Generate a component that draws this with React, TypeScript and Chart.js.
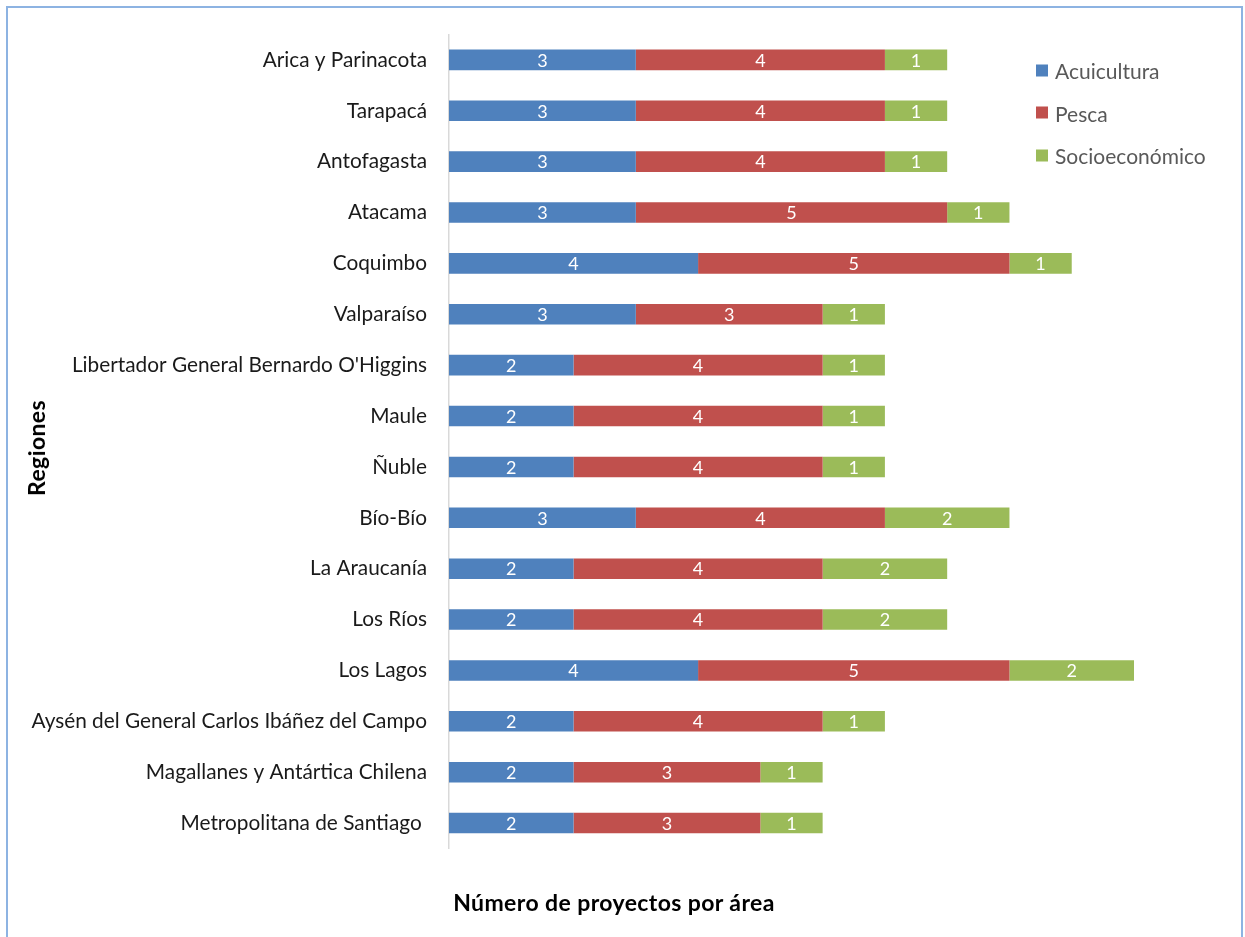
import React, { useEffect, useRef } from "react";
import { Chart, registerables } from "chart.js";

Chart.register(...registerables);

const regions = [
  "Arica y Parinacota",
  "Tarapacá",
  "Antofagasta",
  "Atacama",
  "Coquimbo",
  "Valparaíso",
  "Libertador General Bernardo O'Higgins",
  "Maule",
  "Ñuble",
  "Bío-Bío",
  "La Araucanía",
  "Los Ríos",
  "Los Lagos",
  "Aysén del General Carlos Ibáñez del Campo",
  "Magallanes y Antártica Chilena",
  "Metropolitana de Santiago ",
];

const acuicultura = [3, 3, 3, 3, 4, 3, 2, 2, 2, 3, 2, 2, 4, 2, 2, 2];
const pesca = [4, 4, 4, 5, 5, 3, 4, 4, 4, 4, 4, 4, 5, 4, 3, 3];
const socioeconomico = [1, 1, 1, 1, 1, 1, 1, 1, 1, 2, 2, 2, 2, 1, 1, 1];

const seriesNames = ["Acuicultura", "Pesca", "Socioeconómico"];
const seriesColors = ["#4F81BD", "#C0504D", "#9BBB59"];

const FONT = "Lato, Carlito, Calibri, sans-serif";

const valueLabels = {
  id: "valueLabels",
  afterDatasetsDraw(chart: any) {
    const ctx = chart.ctx;
    ctx.save();
    ctx.fillStyle = "#ffffff";
    ctx.font = `18px ${FONT}`;
    ctx.textAlign = "center";
    ctx.textBaseline = "middle";
    chart.data.datasets.forEach((ds: any, di: number) => {
      const meta = chart.getDatasetMeta(di);
      meta.data.forEach((el: any, i: number) => {
        const v = ds.data[i];
        if (!v) return;
        const p = el.getProps(["x", "y", "base"], true);
        ctx.fillText(String(v), (p.x + p.base) / 2, p.y + 1);
      });
    });
    ctx.restore();
  },
};

export default function App() {
  const ref = useRef<HTMLCanvasElement>(null);

  useEffect(() => {
    if (!ref.current) return;
    const chart = new Chart(ref.current, {
      type: "bar",
      data: {
        labels: regions,
        datasets: [acuicultura, pesca, socioeconomico].map((d, i) => ({
          label: seriesNames[i],
          data: d,
          backgroundColor: seriesColors[i],
          borderWidth: 0,
          barPercentage: 0.405,
          categoryPercentage: 1,
        })),
      },
      options: {
        indexAxis: "y",
        responsive: false,
        animation: false,
        layout: { padding: { left: 0, right: 111, top: 33.5, bottom: 88.5 } },
        plugins: {
          legend: { display: false },
          tooltip: { enabled: false },
        },
        scales: {
          x: {
            stacked: true,
            min: 0,
            max: 11,
            display: false,
          },
          y: {
            stacked: true,
            grid: { display: true, drawOnChartArea: false, drawTicks: false },
            border: { display: true, color: "#d9d9d9", width: 1.5 },
            ticks: {
              padding: 22,
              color: "#1a1a1a",
              font: { family: FONT, size: 20.8 },
              autoSkip: false,
            },
            afterFit(scale: any) {
              scale.width = 449;
            },
          },
        },
      },
      plugins: [valueLabels],
    });
    return () => chart.destroy();
  }, []);

  return (
    <div style={{ position: "absolute", left: 0, top: 0, width: 1245, height: 937, overflow: "hidden", background: "#fff" }}>
      <div
        style={{
          position: "absolute",
          left: 6,
          top: 6,
          width: 1237,
          height: 960,
          border: "2px solid #8DB3E2",
          boxSizing: "border-box",
        }}
      />
      <canvas ref={ref} width={1245} height={937} style={{ position: "absolute", left: 0, top: 0 }} />
      <div
        style={{
          position: "absolute",
          left: 36,
          top: 448,
          transform: "translate(-50%, -50%) rotate(-90deg)",
          fontFamily: FONT,
          fontWeight: 700,
          fontSize: 23,
          letterSpacing: 0.4,
          color: "#000",
          whiteSpace: "nowrap",
        }}
      >
        Regiones
      </div>
      <div
        style={{
          position: "absolute",
          left: 614,
          top: 902,
          transform: "translate(-50%, -50%)",
          fontFamily: FONT,
          fontWeight: 700,
          fontSize: 23,
          letterSpacing: 0.4,
          color: "#000",
          whiteSpace: "nowrap",
        }}
      >
        Número de proyectos por área
      </div>
      {seriesNames.map((n, i) => (
        <div
          key={n}
          style={{
            position: "absolute",
            left: 1036,
            top: 70 + i * 42.5,
            transform: "translateY(-50%)",
            display: "flex",
            alignItems: "center",
            fontFamily: FONT,
            fontSize: 21,
            color: "#595959",
            whiteSpace: "nowrap",
          }}
        >
          <span style={{ display: "inline-block", width: 12, height: 12, background: seriesColors[i], marginRight: 7 }} />
          {n}
        </div>
      ))}
    </div>
  );
}
